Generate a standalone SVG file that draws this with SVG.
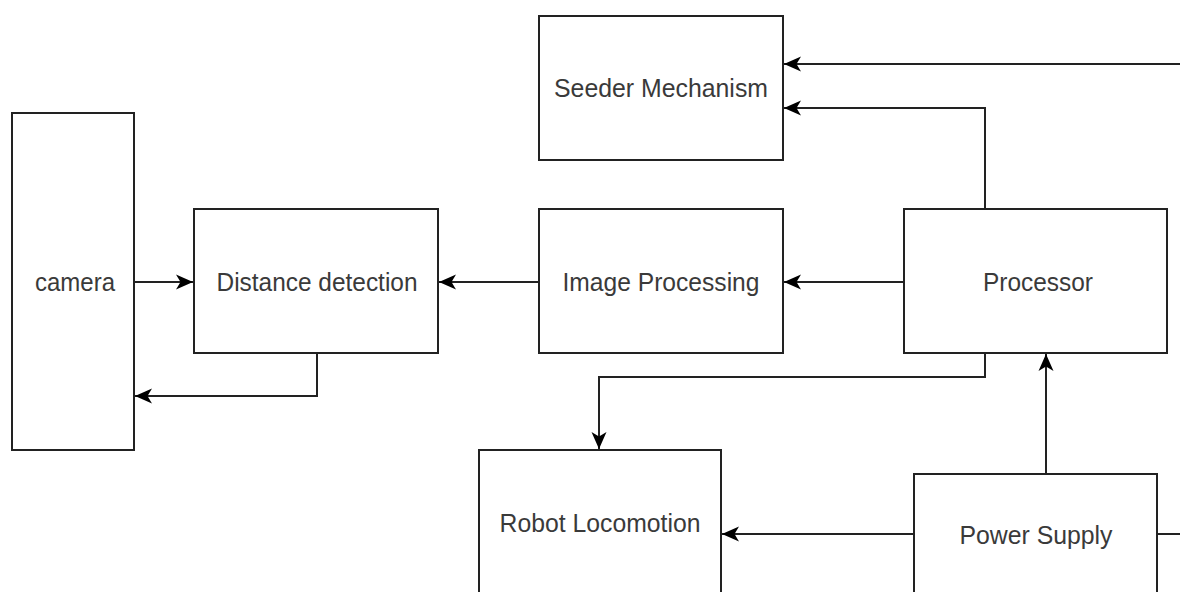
<svg xmlns="http://www.w3.org/2000/svg" width="1180" height="592" viewBox="0 0 1180 592">
<style>
.box{fill:#fff;stroke:#222;stroke-width:2}
.lbl{font-family:"Liberation Sans",Arial,sans-serif;font-size:26px;fill:#3a3a3a;text-anchor:middle}
.edge{fill:none;stroke:#222;stroke-width:2}
</style>
<defs>
<marker id="ah" markerUnits="userSpaceOnUse" viewBox="0 0 17 17" markerWidth="17" markerHeight="17" refX="17" refY="8.5" orient="auto">
<path d="M0,1 L17,8.5 L0,16 L4.5,8.5 Z" fill="#000"/>
</marker>
</defs>
<rect width="1180" height="592" fill="#fff"/>
<g id="camera"><rect class="box" x="12" y="113" width="122" height="337"/><text class="lbl" x="75" y="291" textLength="80" lengthAdjust="spacingAndGlyphs">camera</text></g>
<g id="distance"><rect class="box" x="194" y="209" width="244" height="144"/><text class="lbl" x="317" y="291" textLength="201" lengthAdjust="spacingAndGlyphs">Distance detection</text></g>
<g id="imageproc"><rect class="box" x="539" y="209" width="244" height="144"/><text class="lbl" x="661" y="291" textLength="197" lengthAdjust="spacingAndGlyphs">Image Processing</text></g>
<g id="seeder"><rect class="box" x="539" y="16" width="244" height="144"/><text class="lbl" x="661" y="97" textLength="214" lengthAdjust="spacingAndGlyphs">Seeder Mechanism</text></g>
<g id="processor"><rect class="box" x="904" y="209" width="263" height="144"/><text class="lbl" x="1038" y="291" textLength="110" lengthAdjust="spacingAndGlyphs">Processor</text></g>
<g id="robot"><rect class="box" x="479" y="450" width="242" height="160"/><text class="lbl" x="600" y="532" textLength="201" lengthAdjust="spacingAndGlyphs">Robot Locomotion</text></g>
<g id="power"><rect class="box" x="914" y="474" width="243" height="140"/><text class="lbl" x="1036" y="544" textLength="153" lengthAdjust="spacingAndGlyphs">Power Supply</text></g>
<g id="connectors">
<path class="edge" d="M1180,64 L784,64" marker-end="url(#ah)"/>
<path class="edge" d="M985,209 L985,108 L784,108" marker-end="url(#ah)"/>
<path class="edge" d="M904,282 L784,282" marker-end="url(#ah)"/>
<path class="edge" d="M539,282 L439,282" marker-end="url(#ah)"/>
<path class="edge" d="M134,282 L193,282" marker-end="url(#ah)"/>
<path class="edge" d="M317,353 L317,396 L135,396" marker-end="url(#ah)"/>
<path class="edge" d="M985,353 L985,377 L599,377 L599,449" marker-end="url(#ah)"/>
<path class="edge" d="M1046,474 L1046,354" marker-end="url(#ah)"/>
<path class="edge" d="M914,534 L722,534" marker-end="url(#ah)"/>
<path class="edge" d="M1157,534 L1180,534"/>
</g>
</svg>
